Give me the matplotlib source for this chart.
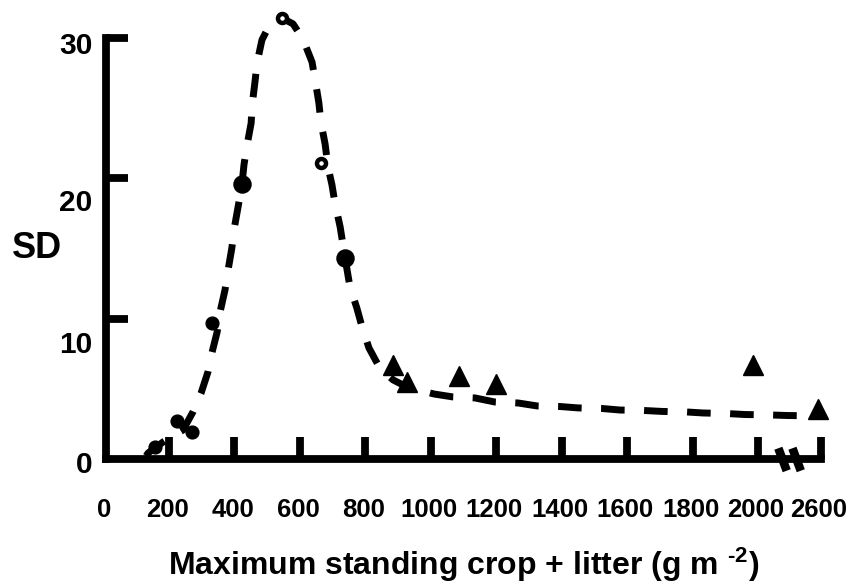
import numpy as np
import matplotlib
matplotlib.use("Agg")
import matplotlib.pyplot as plt

plt.rcParams['font.family'] = ['Liberation Sans', 'DejaVu Sans']
plt.rcParams['font.weight'] = 'bold'
plt.rcParams['mathtext.fontset'] = 'custom'
plt.rcParams['mathtext.rm'] = 'Liberation Sans:bold'
plt.rcParams['mathtext.it'] = 'Liberation Sans:bold'
plt.rcParams['mathtext.bf'] = 'Liberation Sans:bold'
plt.rcParams['mathtext.default'] = 'rm'

# ---------------- data ----------------
# filled circles (large)
circ_big_x = [423, 738]
circ_big_y = [19.6, 14.34]
# filled circles (small)
circ_small_x = [157, 224, 270, 331]
circ_small_y = [0.89, 2.74, 1.96, 9.72]
# open circles
circ_open_x = [545, 663]
circ_open_y = [31.4, 21.08]
# triangles
tri_x = [885, 928, 1086, 1199, 1985, 2590]
tri_y = [6.73, 5.48, 5.92, 5.35, 6.70, 3.61]

# fitted curve
curve_x = [130, 136, 182, 243, 273, 298, 319, 331, 347, 356, 371, 380, 392, 399,
           411, 423, 429, 438, 451, 454, 463, 469, 484, 509, 545, 579, 609, 637,
           646, 658, 664, 677, 686, 698, 707, 723, 738, 753, 774, 790, 811, 839,
           860, 885, 927, 1010, 1068, 1135, 1196, 1267, 1325, 1395, 1450, 1523,
           1578, 1649, 1707, 1783, 1832, 1905, 1960, 2037, 2089, 2588]
curve_y = [0.25, 0.46, 1.25, 2.10, 3.38, 4.73, 6.23, 7.58, 9.07, 10.5, 12.06, 13.42,
           15.05, 16.41, 17.97, 19.6, 20.96, 22.31, 23.95, 25.23, 26.94, 28.22,
           29.86, 31.0, 31.42, 31.0, 29.93, 28.29, 27.08, 25.37, 24.02, 22.45,
           20.8, 19.54, 18.26, 16.55, 14.34, 12.28, 10.78, 9.43, 7.94, 6.73, 6.16,
           5.66, 5.16, 4.66, 4.45, 4.38, 4.09, 4.02, 3.81, 3.77, 3.67, 3.63, 3.52,
           3.49, 3.42, 3.38, 3.31, 3.27, 3.20, 3.17, 3.13, 3.10]

xtick_vals = [0, 200, 400, 600, 800, 1000, 1200, 1400, 1600, 1800, 2000, 2600]
xtick_labels = ['0', '200', '400', '600', '800', '1000', '1200', '1400', '1600',
                '1800', '2000', '2600']
ytick_vals = [10, 20, 30]
ytick_labels = ['0', '10', '20', '30']

# ---------------- layout ----------------
BREAK_AT = 2100      # axis break
BREAK_SHIFT = 408    # 2600 is drawn where 2192 would be


def pos(x):
    x = np.asarray(x, dtype=float)
    return np.where(x <= BREAK_AT, x, x - BREAK_SHIFT)


fig = plt.figure(figsize=(8.57, 5.83), dpi=100)
ax = fig.add_axes([0, 0, 1, 1])
ax.set_xlim(-316.6, 2302.6)
ax.set_ylim(-8.79, 32.70)

LW = 5.6
for s in ['top', 'right']:
    ax.spines[s].set_visible(False)
ax.spines['left'].set_position(('data', 7))
ax.spines['bottom'].set_position(('data', 0))
ax.spines['left'].set_bounds(0, 30)
ax.spines['bottom'].set_bounds(7, float(pos(2600)))
for s in ['left', 'bottom']:
    ax.spines[s].set_linewidth(LW)
    ax.spines[s].set_capstyle('projecting')

xt = [v for v in xtick_vals if v > 0]
ax.set_xticks(pos(xt))
ax.set_yticks(ytick_vals)
ax.tick_params(axis='both', direction='in', width=LW, length=15.8,
               labelbottom=False, labelleft=False)

# curve
ax.plot(pos(curve_x), curve_y, color='black', lw=5.0, dashes=(3.4, 2.8),
        zorder=2, solid_capstyle='butt', dash_capstyle='butt')

# markers
ax.plot(circ_big_x, circ_big_y, 'o', color='black', ms=12.3, zorder=4)
ax.plot(circ_small_x, circ_small_y, 'o', color='black', ms=9.2, zorder=4)
ax.plot(circ_open_x, circ_open_y, 'o', mfc='white', mec='black', ms=6.5,
        mew=3.2, zorder=4)
ax.plot(pos(tri_x), tri_y, '^', color='black', ms=14.5, zorder=4)

# axis break marks
for c in [2075, 2118]:
    ax.plot([c - 12.8, c + 12.8], [0.8, -0.8], color='black', lw=6.2,
            solid_capstyle='butt', clip_on=False, zorder=5)

# tick labels
xl_pos = [7] + xt
for v, lab in zip(pos(xl_pos), xtick_labels):
    ax.text(v - 6, -4.11, lab, ha='center', va='baseline', fontsize=18.5,
            fontweight='bold')
ylab_base = [-0.98, 7.56, 17.71, 28.86]
for yb, lab in zip(ylab_base, ytick_labels):
    ax.text(-34, yb, lab, ha='right', va='baseline', fontsize=21.5,
            fontweight='bold')

fig.text(36.7 / 857, 1 - 248 / 583, 'SD', ha='center', va='center',
         fontsize=26, fontweight='bold')
fig.text(463.5 / 857, 8 / 583, r'Maximum standing crop + litter (g m $^{\text{-2}}$)',
         ha='center', va='baseline', fontsize=23, fontweight='bold')

fig.savefig('out.png', dpi=100, facecolor='white')
